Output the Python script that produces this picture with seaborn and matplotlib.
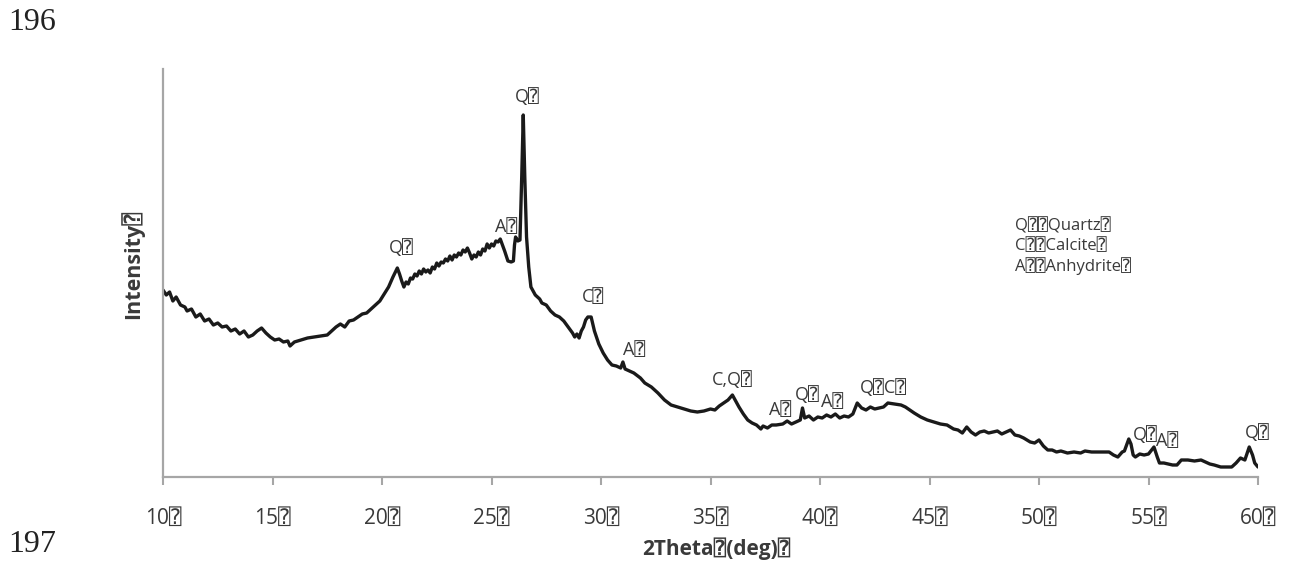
import matplotlib
matplotlib.use("Agg")
import matplotlib.pyplot as plt
import seaborn as sns
import pandas as pd

BOX = "\u2370"

two_theta = [
    10.0, 10.15, 10.3, 10.45, 10.6, 10.8, 11.0, 11.1, 11.3, 11.5, 11.7, 11.9, 12.1, 12.3, 12.5, 12.7,
    12.9, 13.1, 13.3, 13.5, 13.7, 13.9, 14.1, 14.3, 14.5, 14.7, 14.9, 15.1, 15.3, 15.5, 15.7, 15.8,
    16.0, 16.3, 16.6, 16.9, 17.2, 17.5, 17.7, 17.9, 18.1, 18.3, 18.5, 18.7, 18.9, 19.1, 19.3, 19.5,
    19.7, 19.9, 20.1, 20.3, 20.5, 20.7, 20.8, 20.9,
    21.0, 21.1, 21.2, 21.3, 21.4, 21.5, 21.6, 21.7, 21.8, 21.9,
    22.0, 22.1, 22.2, 22.3, 22.4, 22.5, 22.6, 22.7, 22.8, 22.9,
    23.0, 23.1, 23.2, 23.3, 23.4, 23.5, 23.6, 23.7, 23.8, 23.9,
    24.0, 24.1, 24.2, 24.3, 24.4, 24.5, 24.6, 24.7, 24.8, 24.9,
    25.0, 25.1, 25.2, 25.3, 25.4, 25.5,
    25.6, 25.75, 25.9, 26.0, 26.05, 26.1, 26.2, 26.3, 26.38, 26.45, 26.52, 26.6, 26.7, 26.8, 27.0, 27.2,
    27.3, 27.5, 27.7, 27.9, 28.1, 28.3, 28.5, 28.7, 28.8, 28.9, 29.0, 29.1, 29.2, 29.3, 29.4, 29.55,
    29.7, 29.9, 30.1, 30.3, 30.5, 30.7, 30.9, 31.0, 31.1, 31.3, 31.5, 31.8, 32.0, 32.3, 32.6, 32.9,
    33.2, 33.5, 33.8, 34.1, 34.4, 34.7, 35.0, 35.2, 35.4, 35.6, 35.8, 36.0, 36.1, 36.3, 36.5, 36.7,
    36.9, 37.1, 37.3, 37.4, 37.6, 37.8, 38.0, 38.3, 38.5, 38.7, 38.9, 39.1, 39.2, 39.3, 39.5, 39.7,
    39.9, 40.1, 40.3, 40.5, 40.7, 40.9, 41.1, 41.3, 41.5, 41.7, 41.9, 42.1, 42.3, 42.5, 42.7, 42.9,
    43.1, 43.4, 43.7, 43.9, 44.1, 44.3, 44.6, 44.9, 45.2, 45.5, 45.8, 46.1, 46.3, 46.5, 46.7, 46.9,
    47.1, 47.3, 47.5, 47.7, 47.9, 48.1, 48.3, 48.5, 48.7, 48.9, 49.1, 49.3, 49.6, 49.8, 50.0, 50.2,
    50.4, 50.6, 50.8, 51.0, 51.3, 51.6, 51.9, 52.1, 52.4, 52.7, 53.0, 53.2, 53.4, 53.6, 53.8, 53.9,
    54.1, 54.2, 54.3, 54.4, 54.6, 54.8, 55.0, 55.25, 55.4, 55.5, 55.7, 55.9, 56.1, 56.3, 56.5, 56.8,
    57.1, 57.4, 57.6, 57.8, 58.0, 58.3, 58.6, 58.8, 59.0, 59.2, 59.4, 59.6, 59.75, 59.85, 60.0,
]

intensity = [
    187, 182, 185, 176, 180, 172, 170, 166, 168, 160, 163, 156, 158, 152, 154, 150,
    151, 146, 148, 143, 146, 140, 142, 146, 149, 144, 140, 137, 138, 135, 136, 131,
    135, 137, 139, 140, 141, 142, 146, 150, 153, 150, 156, 157, 160, 163, 164, 168,
    172, 176, 183, 190, 200, 209, 203, 196,
    190, 195, 193, 199, 198, 203, 201, 206, 203, 208,
    205, 207, 204, 210, 208, 214, 211, 215, 214, 218,
    216, 221, 217, 222, 220, 224, 222, 227, 225, 229,
    224, 218, 222, 220, 225, 222, 228, 226, 233, 229,
    233, 231, 236, 235, 238, 232,
    226, 216, 215, 216, 232, 240, 236, 237, 300, 362, 300, 240, 210, 190, 182, 178,
    174, 172, 166, 162, 160, 156, 150, 144, 140, 143, 139, 146, 150, 157, 160, 160,
    146, 133, 124, 117, 112, 111, 109, 115, 108, 106, 104, 99, 94, 90, 84, 77,
    72, 70, 68, 66, 65, 66, 68, 67, 71, 74, 77, 82, 78, 70, 63, 57,
    54, 52, 48, 51, 49, 52, 52, 53, 56, 53, 55, 57, 69, 59, 61, 57,
    60, 59, 62, 60, 63, 59, 61, 60, 63, 74, 69, 67, 70, 68, 69, 70,
    74, 73, 72, 70, 67, 64, 60, 57, 55, 53, 52, 48, 47, 44, 50, 45,
    42, 45, 46, 44, 45, 46, 43, 45, 47, 42, 41, 39, 35, 34, 37, 31,
    27, 27, 25, 26, 24, 25, 24, 26, 25, 25, 25, 25, 22, 20, 25, 26,
    38, 33, 22, 20, 23, 22, 23, 30, 20, 14, 14, 13, 12, 12, 17, 17,
    16, 17, 15, 13, 12, 10, 10, 10, 14, 19, 17, 30, 22, 14, 10,
]

x_ticks = [10, 15, 20, 25, 30, 35, 40, 45, 50, 55, 60]
x_tick_labels = [f"{t}{BOX}" for t in x_ticks]

peak_labels = ["Q", "A", "Q", "C", "A", "C,Q", "A", "Q", "A", "Q" + BOX + "C", "Q", "A", "Q"]
peak_x = [26.62, 25.66, 20.87, 29.63, 31.5, 35.98, 38.17, 39.4, 40.55, 42.88, 54.84, 55.84, 59.95]
peak_y = [380, 250, 229, 180, 127, 97, 67, 82, 75, 89, 42, 36, 44]

legend_lines = ["Q" + BOX + BOX + "Quartz" + BOX,
                "C" + BOX + BOX + "Calcite" + BOX,
                "A" + BOX + BOX + "Anhydrite" + BOX]

sns.set_theme(style="white")
FAM = ["Open Sans", "DejaVu Sans", "DejaVu Sans Mono"]
plt.rcParams["font.family"] = FAM

TXT = "#3a3a3a"
AX = "#a6a6a6"

fig = plt.figure(figsize=(12.89, 5.63), dpi=100)
ax = fig.add_axes([163 / 1289, 1 - 477 / 563, (1258 - 163) / 1289, (477 - 69) / 563])

df = pd.DataFrame({"two_theta": two_theta, "intensity": intensity})
sns.lineplot(data=df, x="two_theta", y="intensity", ax=ax, color="#1a1a1a", linewidth=2.4)

ax.set_xlim(10, 60)
ax.set_ylim(0, 408)
ax.set_xticks(x_ticks)
ax.set_xticklabels(x_tick_labels, fontsize=15, color=TXT)
ax.set_yticks([])
ax.tick_params(axis="x", bottom=True, length=6, width=1.5, color=AX, pad=16)

for s in ["top", "right"]:
    ax.spines[s].set_visible(False)
for s in ["left", "bottom"]:
    ax.spines[s].set_color(AX)
    ax.spines[s].set_linewidth(1.6)

ax.set_xlabel("2Theta" + BOX + "(deg)" + BOX, fontsize=15, fontweight="bold", color=TXT)
ax.set_ylabel("Intensity" + BOX, fontsize=15.5, fontweight="bold", color=TXT)
ax.xaxis.set_label_coords(0.505, -0.149)
ax.yaxis.set_label_coords(-0.017, 0.52)

for lab, px, py in zip(peak_labels, peak_x, peak_y):
    ax.text(px, py, lab + BOX, fontsize=13, color=TXT, ha="center", va="center")

for i, line in enumerate(legend_lines):
    ax.text(48.9, 251 - 20 * i, line, fontsize=12, color=TXT, ha="left", va="center")

fig.text(32 / 1289, 1 - 22 / 563, "196", fontsize=23, color="#222222", ha="center", va="center",
         family=["Liberation Serif", "DejaVu Serif"])
fig.text(32 / 1289, 1 - 545 / 563, "197", fontsize=23, color="#222222", ha="center", va="center",
         family=["Liberation Serif", "DejaVu Serif"])

fig.savefig("out.png", dpi=100)
